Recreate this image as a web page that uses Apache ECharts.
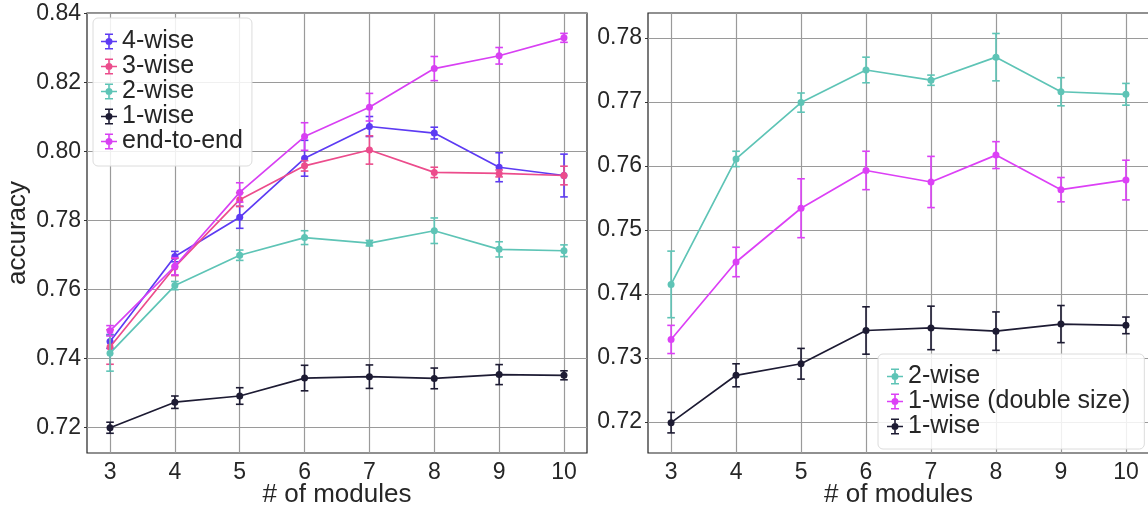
<!DOCTYPE html>
<html>
<head>
<meta charset="utf-8">
<script src="https://cdn.jsdelivr.net/npm/echarts@6/dist/echarts.min.js"></script>
<style>
html,body{margin:0;padding:0;background:#fff;}
#chart{width:1148px;height:506px;}
</style>
</head>
<body>
<div id="chart"></div>
<script>
// ---- data ----
const modules = [3, 4, 5, 6, 7, 8, 9, 10];
const leftTicks = [0.72, 0.74, 0.76, 0.78, 0.80, 0.82, 0.84];
const rightTicks = [0.72, 0.73, 0.74, 0.75, 0.76, 0.77, 0.78];

const acc4wise = [0.7449, 0.7695, 0.7809, 0.7980, 0.8072, 0.8053, 0.7954, 0.7930];
const err4wise = [0.0020, 0.0015, 0.0032, 0.0052, 0.0029, 0.0017, 0.0042, 0.0062];
const acc3wise = [0.7433, 0.7665, 0.7860, 0.7958, 0.8004, 0.7939, 0.7936, 0.7930];
const err3wise = [0.0050, 0.0025, 0.0020, 0.0015, 0.0041, 0.0015, 0.0010, 0.0027];
const acc2wise = [0.7415, 0.7611, 0.7699, 0.7750, 0.7734, 0.7770, 0.7716, 0.7712];
const err2wise = [0.0052, 0.0012, 0.0015, 0.0020, 0.0008, 0.0037, 0.0022, 0.0017];
const acc1wise = [0.7199, 0.7273, 0.7291, 0.7343, 0.7347, 0.7342, 0.7353, 0.7351];
const err1wise = [0.0016, 0.0018, 0.0024, 0.0037, 0.0034, 0.0030, 0.0029, 0.0013];
const accEnd2End = [0.7480, 0.7667, 0.7881, 0.8043, 0.8128, 0.8240, 0.8277, 0.8329];
const errEnd2End = [0.0015, 0.0025, 0.0028, 0.0040, 0.0040, 0.0035, 0.0024, 0.0013];
const acc1wiseDouble = [0.7329, 0.7450, 0.7534, 0.7593, 0.7575, 0.7617, 0.7563, 0.7578];
const err1wiseDouble = [0.0022, 0.0023, 0.0046, 0.0030, 0.0040, 0.0021, 0.0019, 0.0031];

// ---- styling ----
const FONT = '"Liberation Sans", Arial, sans-serif';
const TXT = '#262626';
const GRIDC = '#9a9a9a';
const colors = {
  '4-wise': '#5d3bf3',
  '3-wise': '#ec4c8c',
  '2-wise': '#5ec4b6',
  '1-wise': '#1d1b33',
  'end-to-end': '#d840f3',
  '1-wise (double size)': '#dc40f6'
};
const ICON = 'path://M0,7.2H16V8.8H0Z M7.2,0H8.8V16H7.2Z M4,0H12V1.5H4Z M4,14.5H12V16H4Z M8,4.5A3.5,3.5 0 1,1 7.99,4.5Z';

function lineSeries(name, acc, gi, z) {
  return {
    type: 'line', name: name, xAxisIndex: gi, yAxisIndex: gi,
    data: modules.map((m, i) => [m, acc[i]]),
    symbol: 'circle', symbolSize: 7, showSymbol: true,
    lineStyle: { color: colors[name], width: 1.7 },
    itemStyle: { color: colors[name] },
    z: z, animation: false, emphasis: { disabled: true }
  };
}
function errSeries(name, acc, err, gi, z) {
  const c = colors[name];
  return {
    type: 'custom', name: name, xAxisIndex: gi, yAxisIndex: gi,
    data: modules.map((m, i) => [m, acc[i] - err[i], acc[i] + err[i]]),
    encode: { x: 0, y: [1, 2] },
    z: z, animation: false, silent: true,
    renderItem: function (params, api) {
      const x = api.value(0);
      const p1 = api.coord([x, api.value(1)]);
      const p2 = api.coord([x, api.value(2)]);
      const w = 3.8;
      const st = { stroke: c, lineWidth: 1.6 };
      return {
        type: 'group',
        children: [
          { type: 'line', shape: { x1: p1[0], y1: p1[1], x2: p2[0], y2: p2[1] }, style: st },
          { type: 'line', shape: { x1: p1[0] - w, y1: p1[1], x2: p1[0] + w, y2: p1[1] }, style: st },
          { type: 'line', shape: { x1: p2[0] - w, y1: p2[1], x2: p2[0] + w, y2: p2[1] }, style: st }
        ]
      };
    }
  };
}

function xAxisDef(gi) {
  return {
    type: 'value', gridIndex: gi, min: 2.645, max: 10.355,
    name: '# of modules', nameLocation: 'middle', nameGap: 29, nameMoveOverlap: false,
    nameTextStyle: { fontFamily: FONT, fontSize: 26, color: TXT },
    axisLine: { show: false },
    axisTick: { show: false, customValues: modules },
    axisLabel: { customValues: modules, fontFamily: FONT, fontSize: 23, color: TXT, margin: 8 },
    splitLine: { show: true, lineStyle: { color: GRIDC, width: 1.2 } }
  };
}
function yAxisDef(gi, min, max, ticks, name) {
  return {
    type: 'value', gridIndex: gi, min: min, max: max,
    name: name, nameLocation: 'middle', nameGap: 56, nameRotate: 90, nameMoveOverlap: false,
    nameTextStyle: { fontFamily: FONT, fontSize: 26, color: TXT },
    axisLine: { show: false },
    axisTick: { show: true, customValues: ticks, length: 3, lineStyle: { color: '#333' } },
    axisLabel: {
      customValues: ticks, fontFamily: FONT, fontSize: 23, color: TXT, margin: 6,
      formatter: v => v.toFixed(2)
    },
    splitLine: { show: true, lineStyle: { color: GRIDC, width: 1.2 } }
  };
}

const legendCommon = {
  orient: 'vertical', itemWidth: 16, itemHeight: 16, itemGap: 0,
  backgroundColor: 'rgba(255,255,255,0.85)', borderColor: '#dcdcdc', borderWidth: 1, borderRadius: 5,
  textStyle: { fontFamily: FONT, fontSize: 25, color: TXT },
  selectedMode: false, icon: ICON
};

const gridCommon = {
  top: 13, height: 440, show: true, borderColor: '#222', borderWidth: 1.2,
  backgroundColor: 'transparent', containLabel: false, outerBoundsMode: 'none'
};

const option = {
  animation: false,
  backgroundColor: '#fff',
  grid: [
    Object.assign({ left: 87, width: 500 }, gridCommon),
    Object.assign({ left: 648, width: 501 }, gridCommon)
  ],
  xAxis: [xAxisDef(0), xAxisDef(1)],
  yAxis: [
    yAxisDef(0, 0.71258, 0.8401, leftTicks, 'accuracy'),
    yAxisDef(1, 0.71516, 0.7839, rightTicks, '')
  ],
  legend: [
    Object.assign({}, legendCommon, {
      left: 93, top: 18, padding: [11, 9, 12, 8],
      data: ['4-wise', '3-wise', '2-wise', '1-wise', 'end-to-end'].map(n => ({ name: n, itemStyle: { color: colors[n] } }))
    }),
    Object.assign({}, legendCommon, {
      left: 878, top: 354, padding: [10, 14, 10, 9],
      data: ['2-wise', '1-wise (double size)', '1-wise'].map(n => ({ name: n, itemStyle: { color: colors[n] } }))
    })
  ],
  series: [
    errSeries('4-wise', acc4wise, err4wise, 0, 2), lineSeries('4-wise', acc4wise, 0, 3),
    errSeries('3-wise', acc3wise, err3wise, 0, 4), lineSeries('3-wise', acc3wise, 0, 5),
    errSeries('2-wise', acc2wise, err2wise, 0, 6), lineSeries('2-wise', acc2wise, 0, 7),
    errSeries('1-wise', acc1wise, err1wise, 0, 8), lineSeries('1-wise', acc1wise, 0, 9),
    errSeries('end-to-end', accEnd2End, errEnd2End, 0, 10), lineSeries('end-to-end', accEnd2End, 0, 11),

    errSeries('2-wise', acc2wise, err2wise, 1, 2), lineSeries('2-wise', acc2wise, 1, 3),
    errSeries('1-wise (double size)', acc1wiseDouble, err1wiseDouble, 1, 4), lineSeries('1-wise (double size)', acc1wiseDouble, 1, 5),
    errSeries('1-wise', acc1wise, err1wise, 1, 6), lineSeries('1-wise', acc1wise, 1, 7)
  ]
};

const chart = echarts.init(document.getElementById('chart'), null, { renderer: 'canvas', width: 1148, height: 506 });
chart.setOption(option);
</script>
</body>
</html>
